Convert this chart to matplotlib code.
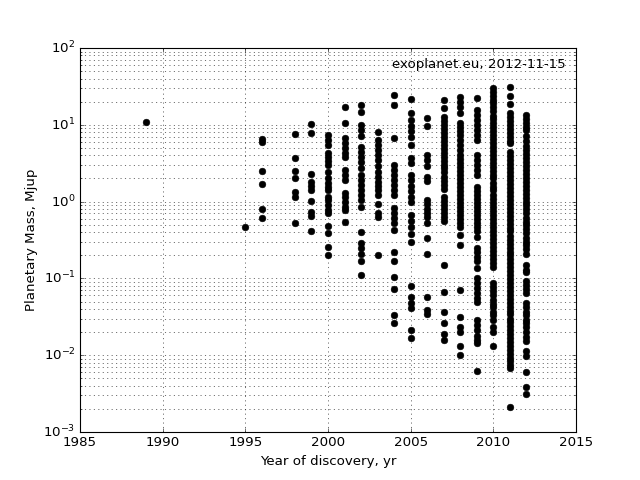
import matplotlib
matplotlib.use("Agg")
import matplotlib.pyplot as plt

plt.style.use("classic")
plt.rcParams["mathtext.default"] = "regular"
plt.rcParams["mathtext.fontset"] = "dejavusans"
plt.rcParams["axes.formatter.useoffset"] = False

# planetary masses (Mjup) by discovery year
m1989 = [11.0]
m1995 = [0.47]
m1996 = [6.5, 6.0, 2.5, 1.7, 0.8, 0.61]
m1998 = [7.6, 3.7, 2.5, 2.0, 1.33, 1.15, 0.52]
m1999 = [10.2, 7.8, 2.3, 1.8, 1.6, 1.4, 1.02, 0.73, 0.65, 0.42]
m2000 = [7.4, 6.3, 5.5, 4.3, 3.8, 3.4, 3.0, 2.4, 2.0, 1.75, 1.55, 1.4, 1.15,
         1.05, 0.9, 0.78, 0.71, 0.48, 0.39, 0.26, 0.2]
m2001 = [17, 10.5, 6.7, 5.8, 5.0, 4.3, 3.8, 2.6, 2.2, 1.9, 1.3, 1.15, 1.0,
         0.85, 0.78, 0.55]
m2002 = [18, 14.7, 9.9, 8.5, 7.2, 5.2, 4.4, 3.8, 3.3, 2.7, 2.2, 1.9, 1.64,
         1.42, 1.22, 1.05, 0.85, 0.4, 0.29, 0.25, 0.21, 0.17, 0.11]
m2003 = [8.1, 6.3, 5.5, 4.7, 4.0, 3.5, 2.9, 2.4, 2.1, 1.8, 1.6, 1.42, 1.22,
         0.93, 0.7, 0.63, 0.2]
m2004 = [24.4, 18, 6.7, 3.0, 2.6, 2.2, 1.9, 1.64, 1.42, 1.22, 0.83, 0.72,
         0.61, 0.52, 0.43, 0.22, 0.17, 0.105, 0.072, 0.033, 0.026]
m2005 = [22, 14.2, 11.5, 9.7, 8.3, 7.0, 5.5, 3.7, 3.2, 2.2, 1.9, 1.6, 1.38,
         1.15, 1.0, 0.67, 0.56, 0.47, 0.38, 0.30, 0.08, 0.058, 0.048, 0.041,
         0.021, 0.017]
m2006 = [12.2, 9.6, 4.0, 3.5, 2.9, 2.1, 1.85, 1.05, 0.93, 0.8, 0.72, 0.63,
         0.53, 0.34, 0.21, 0.058, 0.039, 0.034]
m2007 = [21, 16.5, 12.7, 11.2, 9.9, 8.8, 7.8, 6.9, 6.1, 5.5, 4.8, 4.3, 3.8,
         3.4, 3.0, 2.7, 2.4, 2.1, 1.85, 1.64, 1.46, 1.15, 1.02, 0.9, 0.8,
         0.71, 0.63, 0.56, 0.15, 0.067, 0.037, 0.026, 0.019, 0.016]
m2008 = [23, 19.8, 17.1, 14.2, 10.6, 9.4, 8.3, 7.4, 6.3, 5.5, 4.7, 4.0, 3.6,
         3.2, 2.8, 2.5, 2.2, 1.98, 1.75, 1.55, 1.37, 1.22, 1.08, 0.96, 0.85,
         0.76, 0.67, 0.6, 0.53, 0.47, 0.37, 0.27, 0.07, 0.031, 0.023, 0.02,
         0.013, 0.01]
m2009 = [22.3, 15.6, 13.4, 11.5, 9.9, 8.5, 7.4, 6.3, 4.0, 3.5, 3.0, 2.6, 2.2,
         1.55, 1.37, 1.22, 1.08, 0.96, 0.85, 0.76, 0.67, 0.6, 0.53, 0.47,
         0.42, 0.35, 0.25, 0.22, 0.19, 0.17, 0.137, 0.1, 0.087, 0.076, 0.064,
         0.056, 0.049, 0.029, 0.025, 0.021, 0.018, 0.016, 0.0145, 0.0062]
m2010 = [30, 27, 24, 21, 19, 17, 15, 13, 12, 10.5, 9.3, 8.2, 7.3, 6.5, 5.8,
         5.1, 4.5, 4.0, 3.6, 3.2, 2.8, 2.5, 2.2, 2.0, 1.75, 1.55, 1.4, 1.22,
         1.08, 0.96, 0.85, 0.76, 0.67, 0.6, 0.53, 0.47, 0.42, 0.37, 0.33,
         0.29, 0.26, 0.23, 0.2, 0.18, 0.16, 0.14, 0.087, 0.077, 0.068, 0.06,
         0.053, 0.047, 0.042, 0.037, 0.033, 0.029, 0.023, 0.02, 0.013]
m2011 = [31, 23.7, 18.7, 14.3, 12.7, 11.3, 10, 8.9, 7.9, 7.0, 6.2, 5.8, 4.4,
         3.9, 3.5, 3.1, 2.7, 2.4, 2.15, 1.9, 1.7, 1.5, 1.33, 1.18, 1.05, 0.93,
         0.83, 0.73, 0.65, 0.58, 0.51, 0.46, 0.41, 0.36, 0.32, 0.28, 0.25,
         0.22, 0.2, 0.18, 0.16, 0.14, 0.125, 0.11, 0.098, 0.087, 0.077, 0.069,
         0.061, 0.054, 0.048, 0.043, 0.038, 0.034, 0.030, 0.027, 0.024, 0.021,
         0.019, 0.017, 0.015, 0.013, 0.0118, 0.0105, 0.0093, 0.0083, 0.0074,
         0.0068, 0.0021]
m2012 = [13.4, 12, 10.6, 9.4, 8.5, 7.1, 6.2, 5.3, 4.7, 4.2, 3.7, 3.3, 2.9,
         2.6, 2.3, 2.05, 1.8, 1.6, 1.43, 1.27, 1.13, 1.0, 0.89, 0.79, 0.7,
         0.62, 0.55, 0.49, 0.44, 0.39, 0.34, 0.3, 0.27, 0.24, 0.21, 0.15,
         0.13, 0.12, 0.093, 0.082, 0.072, 0.064, 0.048, 0.042, 0.037, 0.033,
         0.029, 0.026, 0.023, 0.020, 0.0175, 0.0155, 0.0114, 0.0098, 0.006,
         0.0038, 0.0031]

by_year = {
    1989: m1989, 1995: m1995, 1996: m1996, 1998: m1998, 1999: m1999,
    2000: m2000, 2001: m2001, 2002: m2002, 2003: m2003, 2004: m2004,
    2005: m2005, 2006: m2006, 2007: m2007, 2008: m2008, 2009: m2009,
    2010: m2010, 2011: m2011, 2012: m2012,
}
years = []
masses = []
for yr, ms in by_year.items():
    years += [yr] * len(ms)
    masses += ms

fig = plt.figure(figsize=(8, 6), dpi=80, facecolor="white")
ax = fig.add_subplot(111)
ax.semilogy(years, masses, "ko", markersize=6)
ax.set_xlim(1985, 2015)
ax.set_ylim(1e-3, 1e2)
ax.grid(True, which="major")
ax.yaxis.grid(True, which="minor")
ax.set_xlabel("Year of discovery, yr")
ax.set_ylabel("Planetary Mass, Mjup")
ax.text(0.98, 0.975, "exoplanet.eu, 2012-11-15", transform=ax.transAxes,
        ha="right", va="top", fontsize=12)

fig.savefig("out.png", dpi=80, facecolor="white")
